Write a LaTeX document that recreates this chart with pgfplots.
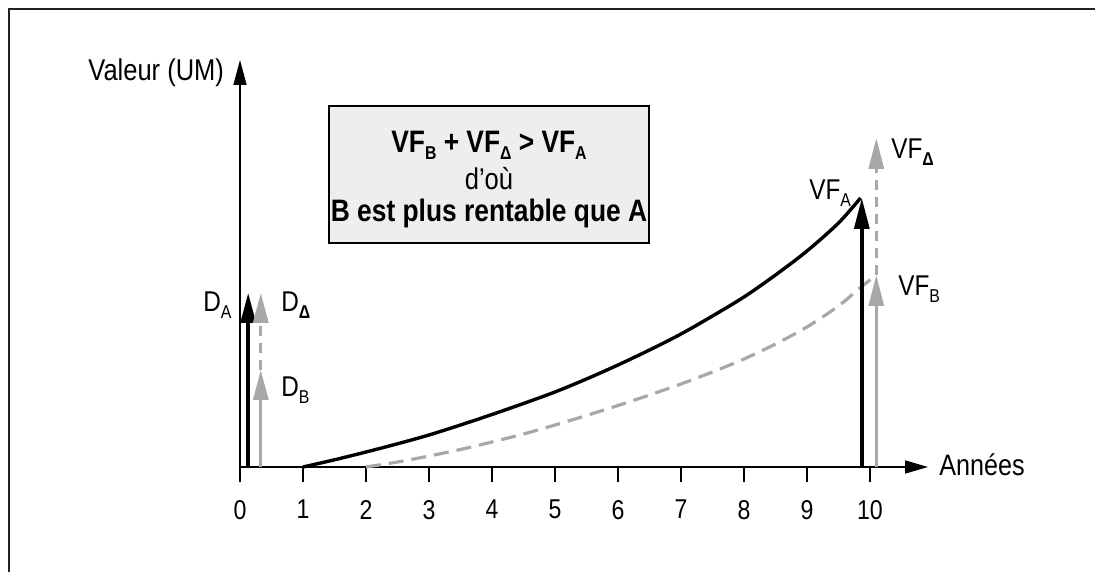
\documentclass[border=0pt]{standalone}
\usepackage{fontspec}
\setmainfont{Liberation Sans}[FakeStretch=0.85]
\usepackage{pgfplots}
\pgfplotsset{compat=1.18}
\usetikzlibrary{arrows.meta}
\definecolor{lgray}{HTML}{A8A8A8}
\definecolor{boxfill}{HTML}{EEEEEE}
\definecolor{frame}{HTML}{222222}
\newcommand{\pxy}[2]{({(#1)*0.5pt},{(572-(#2))*0.5pt})}
\newcommand{\sub}[1]{\raisebox{-3.5pt}{\fontsize{9.3}{10}\selectfont #1}}
\begin{document}
\begin{tikzpicture}
\useasboundingbox \pxy{0}{572} rectangle \pxy{1095}{0};
\draw[line width=1pt, frame] \pxy{9.3}{572} -- \pxy{9.3}{9.3} -- \pxy{1095}{9.3};
\begin{axis}[
  at={(120pt,52.5pt)}, anchor=south west,
  scale only axis, width=344pt, height=203.5pt,
  xmin=0, xmax=10.921, ymin=0, ymax=40.7,
  axis lines=left,
  axis line style={line width=0.75pt, black},
  x axis line style={-{Triangle[length=11.5pt,width=6.5pt]}},
  y axis line style={-{Triangle[length=12.5pt,width=6.5pt]}},
  xtick={0,1,2,3,4,5,6,7,8,9,10}, ytick=\empty,
  tick align=outside, major tick length=7.5pt,
  tick style={line width=0.75pt, black},
  xticklabel style={font=\fontsize{13.6}{15}\selectfont, yshift=-5.5pt},
  /pgf/number format/assume math mode=true,
  clip=false,
]
% curve A
\addplot[black, line width=1.7pt, no marks, smooth] coordinates {
(1,0) (1.5,0.72) (2,1.5) (2.5,2.32) (3,3.2) (3.5,4.2) (4,5.25) (4.5,6.35) (5,7.5) (5.5,8.8) (6,10.2) (6.5,11.7) (7,13.3) (7.5,15.1) (8,17.0) (8.5,19.2) (9,21.6) (9.5,24.4) (9.85,26.9)};
% curve B
\addplot[lgray, line width=1.6pt, no marks, smooth, dash pattern=on 7.5pt off 4pt] coordinates {
(2,0) (2.5,0.5) (3,1.1) (3.5,1.75) (4,2.5) (4.5,3.3) (5,4.2) (5.5,5.15) (6,6.15) (6.5,7.2) (7,8.3) (7.5,9.5) (8,10.8) (8.5,12.3) (9,14.0) (9.5,16.1) (9.84,17.9) (10.1,19.2)};
% arrows year 0
\addplot[black, line width=1.7pt, no marks, -{Triangle[length=15pt,width=7.5pt]}] coordinates {(0.13,0) (0.13,17.4)};
\addplot[lgray, line width=1.6pt, no marks, -{Triangle[length=15pt,width=7.5pt]}] coordinates {(0.33,0) (0.33,9.7)};
\addplot[lgray, line width=1.6pt, no marks, dash pattern=on 5pt off 3.5pt, -{Triangle[length=15pt,width=7.5pt]}] coordinates {(0.33,9.7) (0.33,17.4)};
% arrows year 10
\addplot[black, line width=1.7pt, no marks, -{Triangle[length=15.5pt,width=7.5pt]}] coordinates {(9.87,0) (9.87,26.9)};
\addplot[lgray, line width=1.6pt, no marks, -{Triangle[length=15.5pt,width=7.5pt]}] coordinates {(10.1,0) (10.1,19.2)};
\addplot[lgray, line width=1.6pt, no marks, dash pattern=on 5pt off 3.5pt, -{Triangle[length=15.5pt,width=7.5pt]}] coordinates {(10.1,19.2) (10.1,32.9)};
\end{axis}
\begin{scope}[every node/.style={inner sep=0pt, anchor=base west, font=\fontsize{14.3}{16}\selectfont}]
\node[font=\fontsize{15}{17}\selectfont] at \pxy{88}{81} {Valeur (UM)};
\node[font=\fontsize{14.8}{17}\selectfont] at \pxy{939}{475} {Années};
\node at \pxy{203}{312} {D\sub{A}};
\node at \pxy{281}{312} {D\sub{\textbf{Δ}}};
\node at \pxy{281}{397} {D\sub{B}};
\node at \pxy{809}{200} {VF\sub{A}};
\node at \pxy{891}{159} {VF\sub{\textbf{Δ}}};
\node at \pxy{898}{296} {VF\sub{B}};
\end{scope}
\draw[line width=0.65pt, fill=boxfill] \pxy{329}{106} rectangle \pxy{649}{243};
\node[inner sep=0pt, anchor=base, font=\bfseries\fontsize{15.5}{17}\selectfont] at \pxy{489}{153} {VF\sub{B} + VF\sub{Δ} > VF\sub{A}};
\node[inner sep=0pt, anchor=base, font=\fontsize{15}{17}\selectfont] at \pxy{489}{190} {d’où};
\node[inner sep=0pt, anchor=base, font=\bfseries\fontsize{15.5}{17}\selectfont] at \pxy{489}{222} {B est plus rentable que A};
\end{tikzpicture}
\end{document}
